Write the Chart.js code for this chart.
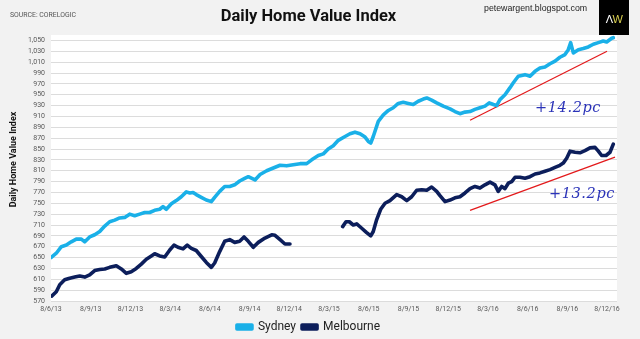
<!DOCTYPE html>
<html>
<head>
<meta charset="utf-8">
<script src="https://cdn.jsdelivr.net/npm/chart.js@4/dist/chart.umd.min.js"></script>
<style>
  html, body { margin:0; padding:0; background:#f2f2f2; }
  #wrap { position:relative; width:640px; height:339px; background:#f2f2f2; overflow:hidden; }
  #c { position:absolute; left:0; top:0; }
  .src { position:absolute; left:10px; top:11px; font:6.9px 'Liberation Sans Narrow','Roboto',sans-serif; color:#555; white-space:nowrap; }
  .url { position:absolute; left:484px; top:3px; font:8.8px 'Liberation Sans',sans-serif; color:#222; white-space:nowrap; }
  .logo { position:absolute; left:599px; top:0; width:30px; height:35px; background:#000; display:flex; align-items:center; justify-content:center; padding-top:3px; box-sizing:border-box; font:11px 'Liberation Sans',sans-serif; letter-spacing:-0.5px; }
</style>
</head>
<body>
<div id="wrap">
  <canvas id="c" width="640" height="339"></canvas>
  <div class="src">SOURCE: CORELOGIC</div>
  <div class="url">petewargent.blogspot.com</div>
  <div class="logo"><span style="color:#fff">Λ</span><span style="color:#d9cf4f">W</span></div>
</div>
<script>
// x values are months since 8 June 2013
const xTickMonths = [0,3,6,9,12,15,18,21,24,27,30,33,36,39,42];
const xTickLabels = ['8/6/13','8/9/13','8/12/13','8/3/14','8/6/14','8/9/14','8/12/14','8/3/15','8/6/15','8/9/15','8/12/15','8/3/16','8/6/16','8/9/16','8/12/16'];
const yTicks = [570,590,610,630,650,670,690,710,730,750,770,790,810,830,850,870,890,910,930,950,970,990,1010,1030,1050];

const sydneyMonths = [0,0.40,0.78,1.16,1.53,1.91,2.29,2.55,2.92,3.30,
  3.68,4.06,4.43,4.81,5.19,5.57,5.94,6.32,6.70,7.08,
  7.45,7.83,8.21,8.46,8.71,9.09,9.46,9.84,10.22,10.48,
  10.73,10.97,11.35,11.73,12.11,12.36,12.74,13.12,13.50,13.87,
  14.25,14.63,14.90,15.41,15.79,16.29,16.79,17.30,17.80,18.30,
  18.81,19.31,19.69,20.19,20.57,20.94,21.32,21.70,22.21,22.58,
  22.96,23.34,23.72,23.97,24.15,24.34,24.72,25.10,25.48,25.85,
  26.23,26.61,26.99,27.36,27.74,28.12,28.38,28.75,29.13,29.63,
  30.14,30.51,30.89,31.27,31.65,32.02,32.40,32.78,33.10,33.41,
  33.66,33.91,34.29,34.67,34.92,35.29,35.80,36.18,36.56,36.93,
  37.31,37.69,38.07,38.44,38.82,39.07,39.25,39.45,39.83,40.20,
  40.58,40.96,41.34,41.71,41.97,42.35,42.47];
const sydneyValues = [650,658,670,673,679,684,684,679,688,692,
  698,708,716,719,723,724,730,727,730,733,
  733,737,739,744,739,749,755,762,771,769,
  770,766,761,756,753,761,772,781,781,784,
  791,796,799,793,803,810,815,820,819,821,
  823,823,830,838,841,850,856,866,873,878,
  881,878,872,864,861,873,901,913,921,926,
  934,936,934,932,938,942,944,940,935,929,
  924,919,915,918,919,923,926,929,935,932,
  930,941,950,963,972,984,987,984,993,999,
  1001,1007,1012,1019,1024,1033,1046,1027,1033,1035,
  1038,1043,1046,1049,1047,1054,1055];

const melbourneMonths = [0.05,0.40,0.66,1.03,1.41,1.79,2.17,2.55,2.92,3.30,
  3.68,4.06,4.43,4.93,5.31,5.69,6.06,6.44,6.82,7.20,
  7.58,7.83,8.21,8.59,8.97,9.29,9.59,9.97,10.29,10.60,
  10.97,11.35,11.73,12.11,12.36,12.74,13.12,13.50,13.87,14.25,
  14.58,14.90,15.28,15.66,16.16,16.67,16.92,17.30,17.67,18.05,
  20,
  22.03,22.28,22.53,22.83,23.09,23.47,23.84,24.15,24.34,24.60,
  24.90,25.23,25.60,26.11,26.49,26.87,27.24,27.62,28.00,28.38,
  28.75,29.13,29.38,29.76,30.14,30.51,30.89,31.27,31.65,32.02,
  32.40,32.78,33.16,33.53,33.78,34.04,34.29,34.54,34.80,35.05,
  35.42,35.80,36.18,36.56,36.93,37.31,37.69,38.07,38.44,38.69,
  38.95,39.20,39.58,39.95,40.33,40.71,41.09,41.34,41.59,41.92,
  42.22,42.47];
const melbourneValues = [579,587,600,609,612,614,616,614,618,626,
  628,629,632,635,629,621,624,630,638,647,
  653,657,653,651,664,673,669,666,673,667,
  663,652,641,632,640,661,680,683,678,680,
  688,680,669,678,686,692,691,683,675,675,
  null,
  707,716,716,710,712,704,696,690,698,720,
  739,750,755,766,762,755,762,774,775,774,
  780,772,764,753,756,760,762,769,777,781,
  778,784,789,784,772,781,777,787,790,798,
  798,796,799,804,806,809,812,816,820,824,
  833,846,844,843,847,852,853,846,838,838,
  844,859];

const sydneyTrendMonths = [31.65, 42.0];
const sydneyTrendValues = [903, 1030];
const melbourneTrendMonths = [31.65, 42.6];
const melbourneTrendValues = [737, 835];

const annotations = [
  {text:'+14.2pc', month:36.56, value:919},
  {text:'+13.2pc', month:37.61, value:760}
];
const yTitle = 'Daily Home Value Index';

const pts = (xs, ys) => xs.map((x, i) => ({x: x, y: ys[i]}));

const NARROW = "'Liberation Sans Narrow', 'Roboto', sans-serif";

const bgPlugin = {
  id: 'bg',
  beforeDraw(chart) {
    const {ctx, chartArea: a} = chart;
    ctx.save();
    ctx.fillStyle = '#f2f2f2';
    ctx.fillRect(0, 0, chart.width, chart.height);
    ctx.fillStyle = '#ffffff';
    ctx.fillRect(a.left, a.top, a.right - a.left, a.bottom - a.top);
    ctx.restore();
  }
};

const notePlugin = {
  id: 'notes',
  afterDatasetsDraw(chart) {
    const {ctx, scales: {x, y}} = chart;
    ctx.save();
    ctx.font = "italic 14.5px 'DejaVu Serif', serif";
    try { ctx.letterSpacing = '0.6px'; } catch (e) {}
    ctx.fillStyle = '#2b33b8';
    ctx.textAlign = 'left';
    ctx.textBaseline = 'alphabetic';
    annotations.forEach(a => ctx.fillText(a.text, x.getPixelForValue(a.month), y.getPixelForValue(a.value)));
    ctx.restore();
  },
  afterDraw(chart) {
    const {ctx} = chart;
    ctx.save();
    ctx.translate(14, 159.5);
    ctx.rotate(-Math.PI / 2);
    ctx.font = "bold 9px " + NARROW;
    ctx.fillStyle = '#111';
    ctx.textAlign = 'center';
    ctx.textBaseline = 'middle';
    ctx.fillText(yTitle, 0, 0);
    ctx.restore();
  }
};

new Chart(document.getElementById('c'), {
  type: 'line',
  data: {
    datasets: [
      {label:'Sydney', data: pts(sydneyMonths, sydneyValues), borderColor:'#1ab0e8', backgroundColor:'#1ab0e8', borderWidth:3.6, pointRadius:0, tension:0, borderJoinStyle:'round', borderCapStyle:'round', spanGaps:false},
      {label:'Melbourne', data: pts(melbourneMonths, melbourneValues), borderColor:'#0c1e5b', backgroundColor:'#0c1e5b', borderWidth:3.6, pointRadius:0, tension:0, borderJoinStyle:'round', borderCapStyle:'round', spanGaps:false},
      {label:'trendS', data: pts(sydneyTrendMonths, sydneyTrendValues), borderColor:'#e3191b', borderWidth:1.2, pointRadius:0},
      {label:'trendM', data: pts(melbourneTrendMonths, melbourneTrendValues), borderColor:'#e3191b', borderWidth:1.2, pointRadius:0}
    ]
  },
  options: {
    responsive: false,
    devicePixelRatio: 1,
    animation: false,
    layout: { padding: {top:0, left:0, right:23, bottom:-4} },
    plugins: {
      title: {
        display: true,
        text: 'Daily Home Value Index',
        color: '#111',
        font: {family:'Roboto', weight:'bold', size:16.5},
        padding: {top:7, bottom:8.2}
      },
      legend: {
        position: 'bottom',
        labels: {
          filter: (item) => item.datasetIndex < 2,
          boxWidth: 15,
          boxHeight: 4,
          padding: 6,
          color: '#222',
          font: {family: NARROW, size: 12}
        }
      },
      tooltip: {enabled:false}
    },
    scales: {
      x: {
        type: 'linear',
        min: 0,
        max: 42.75,
        afterBuildTicks: (axis) => { axis.ticks = xTickMonths.map(v => ({value: v})); },
        afterFit: (scale) => { scale.height = 14; },
        grid: {display:false, drawTicks:false},
        border: {display:false},
        ticks: {
          autoSkip:false, maxRotation:0, padding:4, color:'#595959',
          font: {family: NARROW, size: 7},
          callback: (v, i) => xTickLabels[i]
        }
      },
      y: {
        min: 570,
        max: 1060,
        afterBuildTicks: (axis) => { axis.ticks = yTicks.map(v => ({value: v})); },
        afterFit: (scale) => { scale.width = 51; },
        grid: {color:'#dcdcdc', lineWidth:1, drawTicks:false},
        border: {display:false},
        ticks: {
          autoSkip:false,
          padding: 6, color:'#595959',
          font: {family: NARROW, size: 7},
          callback: (v) => v.toLocaleString('en-US')
        }
      }
    }
  },
  plugins: [bgPlugin, notePlugin]
});
</script>
</body>
</html>
